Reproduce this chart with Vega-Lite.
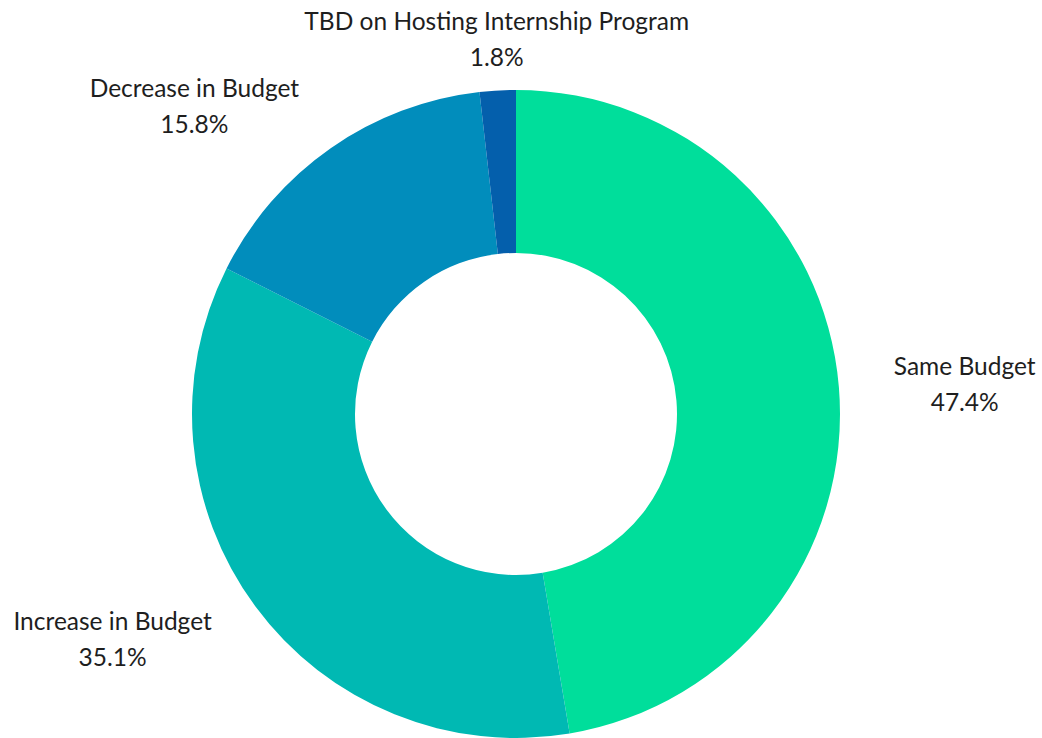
{
  "$schema": "https://vega.github.io/schema/vega-lite/v6.json",
  "width": 1042,
  "height": 738,
  "padding": 0,
  "autosize": {"type": "none"},
  "background": "white",
  "config": {"view": {"stroke": null}},
  "data": {
    "values": [
      {"category": "Same Budget", "value": 47.4, "rank": 1},
      {"category": "Increase in Budget", "value": 35.1, "rank": 2},
      {"category": "Decrease in Budget", "value": 15.8, "rank": 3},
      {"category": "TBD on Hosting Internship Program", "value": 1.8, "rank": 4}
    ]
  },
  "transform": [
    {"calculate": "[datum.category, format(datum.value, '.1f') + '%']", "as": "label"}
  ],
  "encoding": {
    "theta": {"field": "value", "type": "quantitative", "stack": true},
    "order": {"field": "rank", "type": "quantitative"}
  },
  "layer": [
    {
      "mark": {"type": "arc", "x": 516, "y": 414, "innerRadius": 161, "outerRadius": 324},
      "encoding": {
        "color": {
          "field": "category",
          "type": "nominal",
          "scale": {
            "domain": ["Same Budget", "Increase in Budget", "Decrease in Budget", "TBD on Hosting Internship Program"],
            "range": ["#00DE9B", "#00B9B3", "#018DBC", "#045FAC"]
          },
          "legend": null
        }
      }
    },
    {
      "mark": {"type": "text", "x": 516, "y": 414, "radius": 377, "dx": 73, "dy": -15, "align": "center", "baseline": "middle", "font": "Lato", "fontSize": 24.5, "lineHeight": 36, "color": "#1e1e1e"},
      "encoding": {"text": {"condition": {"test": "datum.category == 'Same Budget'", "field": "label"}, "value": ""}}
    },
    {
      "mark": {"type": "text", "x": 516, "y": 414, "radius": 377, "dx": -100, "dy": -15, "align": "center", "baseline": "middle", "font": "Lato", "fontSize": 24.5, "lineHeight": 36, "color": "#1e1e1e"},
      "encoding": {"text": {"condition": {"test": "datum.category == 'Increase in Budget'", "field": "label"}, "value": ""}}
    },
    {
      "mark": {"type": "text", "x": 516, "y": 414, "radius": 377, "dx": -106, "dy": -15, "align": "center", "baseline": "middle", "font": "Lato", "fontSize": 24.5, "lineHeight": 36, "color": "#1e1e1e"},
      "encoding": {"text": {"condition": {"test": "datum.category == 'Decrease in Budget'", "field": "label"}, "value": ""}}
    },
    {
      "mark": {"type": "text", "x": 516, "y": 414, "radius": 377, "dx": 2, "dy": -15, "align": "center", "baseline": "middle", "font": "Lato", "fontSize": 24.5, "lineHeight": 36, "color": "#1e1e1e"},
      "encoding": {"text": {"condition": {"test": "datum.category == 'TBD on Hosting Internship Program'", "field": "label"}, "value": ""}}
    }
  ]
}
